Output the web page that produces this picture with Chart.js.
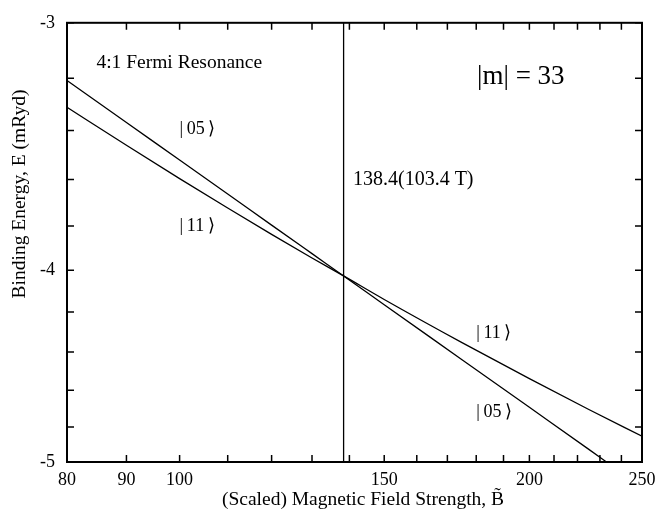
<!DOCTYPE html>
<html>
<head>
<meta charset="utf-8">
<script src="https://cdn.jsdelivr.net/npm/chart.js@4.4.1/dist/chart.umd.min.js"></script>
<style>
    html, body { margin: 0; padding: 0; background: #fff; }
</style>
</head>
<body>
<canvas id="chart" width="667" height="525"></canvas>
<script>
// --- data ---
const field05 = [80, 90, 100, 110, 120, 130, 138.4, 150, 175, 200, 225, 233];
const energy05 = [-3.208, -3.369, -3.519, -3.661, -3.796, -3.924, -4.027, -4.164, -4.439, -4.692, -4.927, -5.0];
const field11 = [80, 90, 100, 110, 120, 130, 138.4, 150, 175, 200, 225, 250];
const energy11 = [-3.310, -3.459, -3.596, -3.721, -3.837, -3.944, -4.027, -4.139, -4.352, -4.538, -4.704, -4.852];
const resonanceB = 138.4;

const xTicks = [80, 90, 100, 110, 120, 130, 140, 150, 160, 170, 180, 190, 200, 210, 220, 230, 240, 250];
const xLabels = [80, 90, 100, 150, 200, 250];
const yTicks = [3, 3.2, 3.4, 3.6, 3.8, 4, 4.2, 4.4, 4.6, 4.8, 5];
const yLabels = [3, 4, 5];

const serif = '"Liberation Serif", "Times New Roman", serif';

// text placed in data coordinates (B, E)
const notes = [
    { text: '4:1 Fermi Resonance', b: 84.8, e: -3.142, size: 19.5 },
    { text: '|m| = 33', b: 180.3, e: -3.195, size: 27 },
    { text: '138.4(103.4 T)', b: 141, e: -3.601, size: 20 },
    { text: '|\u200905\u2009\u27E9', b: 100, e: -3.395, size: 18 },
    { text: '|\u200911\u2009\u27E9', b: 100, e: -3.803, size: 18 },
    { text: '|\u200911\u2009\u27E9', b: 180, e: -4.307, size: 18 },
    { text: '|\u200905\u2009\u27E9', b: 180, e: -4.720, size: 18 }
];

const toPoints = (bs, es) => bs.map((b, i) => ({ x: b, y: -es[i] }));

const framePlugin = {
    id: 'frame',
    afterDatasetsDraw(chart) {
        const { ctx, chartArea: a, scales: { x, y } } = chart;
        ctx.save();
        ctx.strokeStyle = '#000';

        // inward tick marks on all four sides
        ctx.lineWidth = 1.5;
        ctx.beginPath();
        xTicks.forEach(v => {
            const px = x.getPixelForValue(v);
            ctx.moveTo(px, a.bottom); ctx.lineTo(px, a.bottom - 7);
            ctx.moveTo(px, a.top); ctx.lineTo(px, a.top + 7);
        });
        yTicks.forEach(v => {
            const py = y.getPixelForValue(v);
            ctx.moveTo(a.left, py); ctx.lineTo(a.left + 7, py);
            ctx.moveTo(a.right, py); ctx.lineTo(a.right - 7, py);
        });
        ctx.stroke();

        ctx.lineWidth = 2;
        ctx.strokeRect(a.left, a.top, a.right - a.left, a.bottom - a.top);

        // annotations
        ctx.fillStyle = '#000';
        ctx.textBaseline = 'middle';
        ctx.textAlign = 'left';
        notes.forEach(n => {
            ctx.font = n.size + 'px ' + serif;
            ctx.fillText(n.text, x.getPixelForValue(n.b), y.getPixelForValue(-n.e));
        });

        // axis titles
        ctx.textAlign = 'center';
        ctx.font = '19.5px ' + serif;
        ctx.fillText('(Scaled) Magnetic Field Strength, B\u0303', 363, 500);
        ctx.translate(20, 194);
        ctx.rotate(-Math.PI / 2);
        ctx.fillText('Binding Energy, E (mRyd)', 0, 0);
        ctx.restore();
    }
};

new Chart(document.getElementById('chart'), {
    type: 'line',
    data: {
        datasets: [
            { label: '|05>', data: toPoints(field05, energy05), borderColor: '#000', borderWidth: 1.3, pointRadius: 0, cubicInterpolationMode: 'monotone' },
            { label: '|11>', data: toPoints(field11, energy11), borderColor: '#000', borderWidth: 1.3, pointRadius: 0, cubicInterpolationMode: 'monotone' },
            { label: 'resonance', data: [{ x: resonanceB, y: 3 }, { x: resonanceB, y: 5 }], borderColor: '#000', borderWidth: 1.3, pointRadius: 0 }
        ]
    },
    options: {
        responsive: false,
        animation: false,
        layout: { padding: { top: 20, right: 25, left: 0, bottom: 0 } },
        plugins: { legend: { display: false }, tooltip: { enabled: false } },
        scales: {
            x: {
                type: 'logarithmic',
                min: 80, max: 250,
                grid: { display: false, drawTicks: false },
                border: { display: false },
                afterBuildTicks: s => { s.ticks = xTicks.map(v => ({ value: v })); },
                afterFit: s => { s.height = 63; },
                ticks: {
                    autoSkip: false, maxRotation: 0, padding: 7, color: '#000',
                    font: { family: serif, size: 18 },
                    callback: v => xLabels.includes(v) ? String(v) : ''
                }
            },
            y: {
                type: 'logarithmic',
                reverse: true,
                min: 3, max: 5,
                grid: { display: false, drawTicks: false },
                border: { display: false },
                afterBuildTicks: s => { s.ticks = yTicks.map(v => ({ value: v })); },
                afterFit: s => { s.width = 67; },
                ticks: {
                    autoSkip: false, padding: 12, color: '#000',
                    font: { family: serif, size: 18 },
                    callback: v => yLabels.includes(v) ? '-' + v : ''
                }
            }
        }
    },
    plugins: [framePlugin]
});
</script>
</body>
</html>
